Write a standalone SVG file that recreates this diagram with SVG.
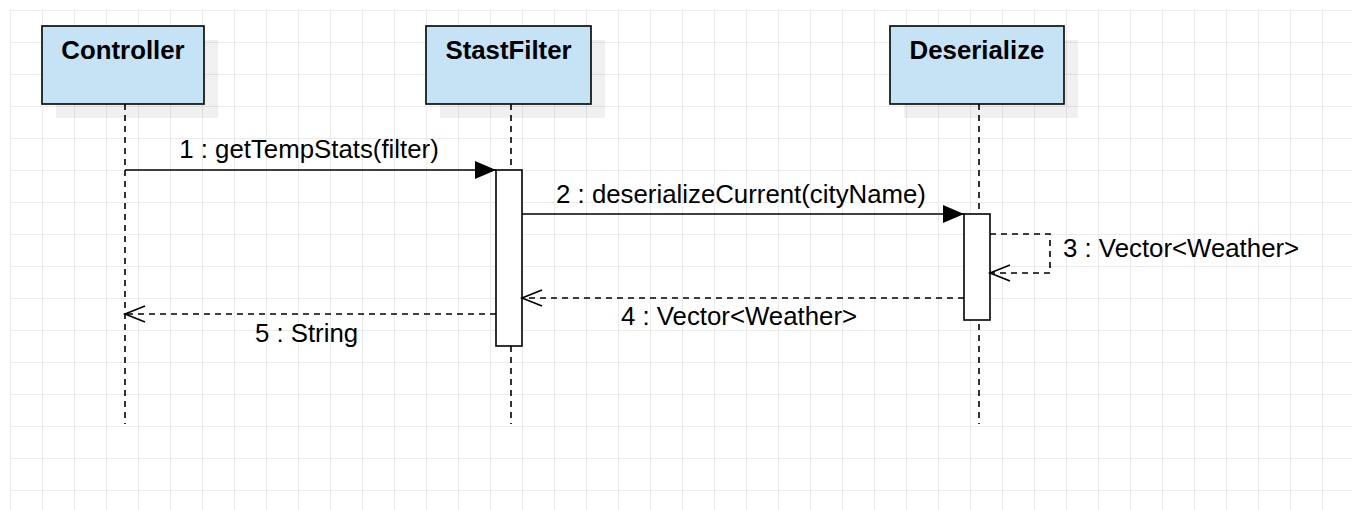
<svg xmlns="http://www.w3.org/2000/svg" width="1352" height="510" viewBox="0 0 1352 510">
<style>
.box{fill:#c6e3f6;stroke:#000;stroke-width:1.6}
.shadow{fill:#000;fill-opacity:0.06}
.title{font-family:"Liberation Sans",Arial,sans-serif;font-size:25.8px;font-weight:bold;fill:#000;text-anchor:middle}
.lbl{font-family:"Liberation Sans",Arial,sans-serif;font-size:25.8px;fill:#000}
.life{stroke:#000;stroke-width:1.6;stroke-dasharray:6 5;fill:none}
.act{fill:#fff;stroke:#000;stroke-width:1.6}
.msg{stroke:#000;stroke-width:1.6;fill:none}
.ret{stroke:#000;stroke-width:1.6;fill:none;stroke-dasharray:6 5}
</style>
<defs>
<pattern id="grid" x="10" y="10" width="32" height="32" patternUnits="userSpaceOnUse">
<path d="M0 0.5 H32 M0.5 0 V32" stroke="#ebebeb" stroke-width="1" fill="none"/>
</pattern>
<marker id="filled" markerWidth="22" markerHeight="20" refX="21" refY="9" orient="auto" markerUnits="userSpaceOnUse">
<path d="M0 0 L21 9 L0 18 Z" fill="#000"/>
</marker>
<marker id="open" markerWidth="24" markerHeight="20" refX="21" refY="9" orient="auto" markerUnits="userSpaceOnUse">
<path d="M1 1 L21 9 L1 17" fill="none" stroke="#000" stroke-width="1.6"/>
</marker>
</defs>
<rect width="1352" height="510" fill="#fff"/>
<rect x="9.5" y="9.5" width="1342.5" height="500.5" fill="url(#grid)"/>

<g id="lifelines">
<line class="life" x1="125" y1="104" x2="125" y2="424"/>
<line class="life" x1="511" y1="104" x2="511" y2="424"/>
<line class="life" x1="979" y1="104" x2="979" y2="424"/>
</g>

<g id="controller">
<rect class="shadow" x="56" y="40" width="162" height="78"/>
<rect class="box" x="42" y="26" width="162" height="78"/>
<text class="title" x="123" y="58.5">Controller</text>
</g>

<g id="stastfilter">
<rect class="shadow" x="440" y="40" width="165" height="78"/>
<rect class="box" x="426" y="26" width="165" height="78"/>
<text class="title" x="508.5" y="58.5">StastFilter</text>
<rect class="act" x="496" y="170" width="26" height="176"/>
</g>

<g id="deserialize">
<rect class="shadow" x="904" y="40" width="174" height="78"/>
<rect class="box" x="890" y="26" width="174" height="78"/>
<text class="title" x="977" y="58.5">Deserialize</text>
<rect class="act" x="964" y="214" width="26" height="106"/>
</g>

<g id="connectors">
<line class="msg" x1="125" y1="170" x2="496" y2="170" marker-end="url(#filled)"/>
<text class="lbl" x="309" y="158" text-anchor="middle">1 : getTempStats(filter)</text>
<line class="msg" x1="522" y1="214" x2="964" y2="214" marker-end="url(#filled)"/>
<text class="lbl" x="741" y="202.5" text-anchor="middle">2 : deserializeCurrent(cityName)</text>
<path class="ret" d="M990 234 H1050 V273 H990" marker-end="url(#open)"/>
<text class="lbl" x="1063" y="257">3 : Vector&lt;Weather&gt;</text>
<line class="ret" x1="964" y1="298" x2="522" y2="298" marker-end="url(#open)"/>
<text class="lbl" x="739" y="324.5" text-anchor="middle">4 : Vector&lt;Weather&gt;</text>
<line class="ret" x1="496" y1="314" x2="125" y2="314" marker-end="url(#open)"/>
<text class="lbl" x="306.5" y="341.5" text-anchor="middle">5 : String</text>
</g>
</svg>
